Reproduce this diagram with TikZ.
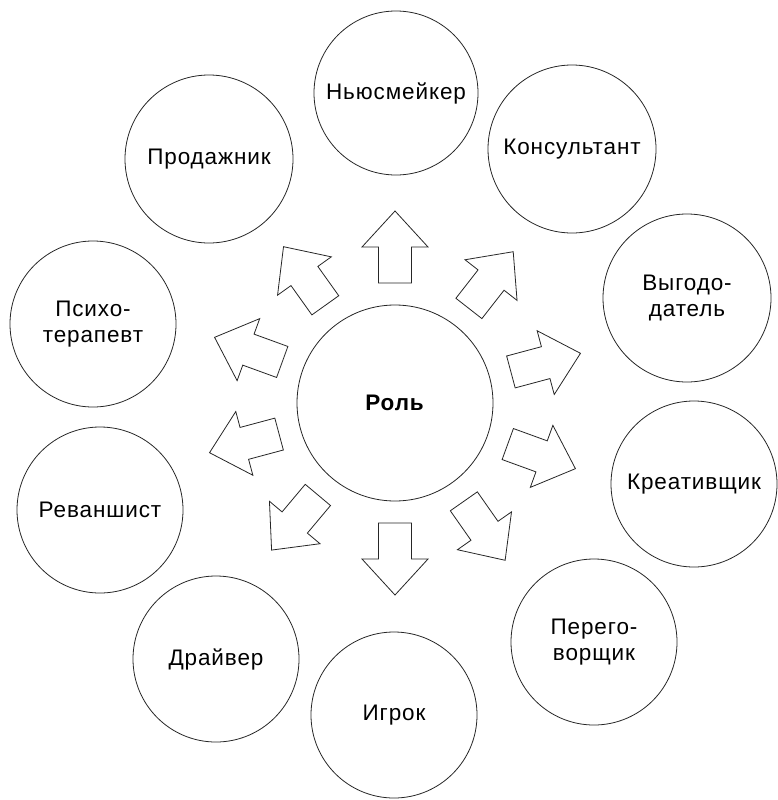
\documentclass[tikz,border=0pt]{standalone}
\usepackage{fontspec}
\setmainfont{Liberation Sans}[LetterSpace=4]
\begin{document}
\begin{tikzpicture}[x=1pt,y=1pt,
  role/.style={circle, draw=black!85, line width=0.8pt, inner sep=0pt, align=center,
    font=\fontsize{22.5}{26}\selectfont, text=black},
  blockarr/.style={draw=black!85, line width=0.8pt, line join=miter, fill=white}]
\useasboundingbox (0,0) rectangle (777,-800);
\node[role, minimum size=196] (C) at (395,-403) {\textbf{Роль}};
\node[role, minimum size=164] (news) at (396,-93) {Ньюсмейкер};
\node[role, minimum size=168] (prod) at (209,-159) {Продажник};
\node[role, minimum size=168] (cons) at (572,-149) {Консультант};
\node[role, minimum size=168] (vyg) at (687,-298) {Выгодо-\\датель};
\node[role, minimum size=166] (krea) at (694,-484) {Креативщик};
\node[role, minimum size=166] (pere) at (594,-642) {Перего-\\ворщик};
\node[role, minimum size=166] (igr) at (394,-715) {Игрок};
\node[role, minimum size=166] (drai) at (216,-659) {Драйвер};
\node[role, minimum size=166] (rev) at (100,-510) {Реваншист};
\node[role, minimum size=166] (psy) at (93,-324) {Психо-\\терапевт};
\foreach \a in {90,52,15,-20,-55,-90,-130,195,160,125.5}{
  \draw[blockarr, shift={(395,-403)}, rotate=\a]
    (120,-16.5) -- (156,-16.5) -- (156,-33) -- (192,0) -- (156,33)
    -- (156,16.5) -- (120,16.5) -- cycle;
}
\end{tikzpicture}
\end{document}
